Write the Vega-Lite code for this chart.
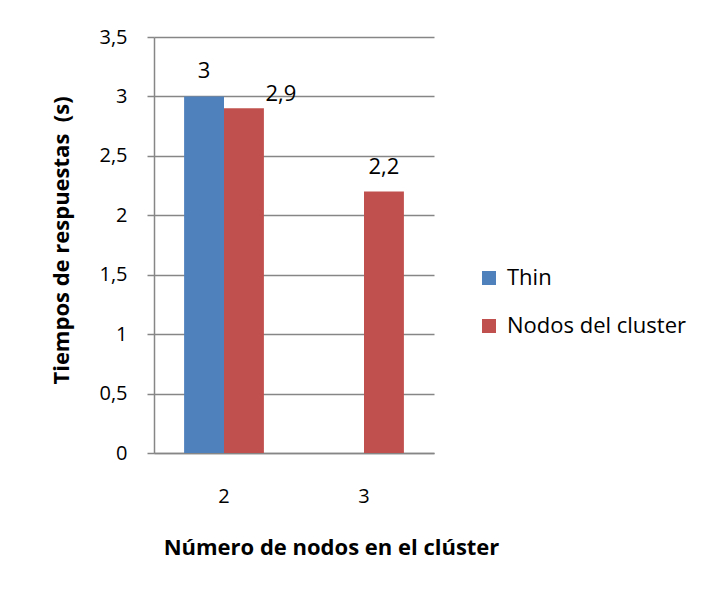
{
  "$schema": "https://vega.github.io/schema/vega-lite/v6.json",
  "width": 280,
  "height": 416,
  "autosize": "none",
  "padding": {"left": 154, "top": 37, "right": 268, "bottom": 141},
  "background": "white",
  "config": {
    "locale": {"number": {"decimal": ",", "thousands": ".", "grouping": [3], "currency": ["", " €"]}},
    "font": "Open Sans",
    "view": {"stroke": null},
    "axis": {"labelFont": "Open Sans", "titleFont": "Open Sans", "labelColor": "black", "titleColor": "black"}
  },
  "data": {
    "values": [
      {"nodos": "2", "serie": "Thin", "tiempo": 3},
      {"nodos": "2", "serie": "Nodos del cluster", "tiempo": 2.9},
      {"nodos": "3", "serie": "Nodos del cluster", "tiempo": 2.2}
    ]
  },
  "encoding": {
    "x": {
      "field": "nodos", "type": "nominal",
      "scale": {"paddingInner": 0.43, "paddingOuter": 0.215},
      "axis": {
        "title": "Número de nodos en el clúster",
        "labelAngle": 0, "labelFontSize": 20, "labelPadding": 33,
        "ticks": false, "domainColor": "#868686", "domainWidth": 1.5,
        "titleFontSize": 22, "titleFontWeight": "bold",
        "titleX": 177, "titleY": 94, "titleBaseline": "middle"
      }
    },
    "xOffset": {"field": "serie", "type": "nominal", "scale": {"domain": ["Thin", "Nodos del cluster"], "paddingInner": 0}},
    "y": {
      "field": "tiempo", "type": "quantitative",
      "scale": {"domain": [0, 3.5], "nice": false},
      "axis": {
        "title": "Tiempos de respuestas\u00a0 (s)",
        "values": [0, 0.5, 1, 1.5, 2, 2.5, 3, 3.5],
        "format": ".1~f",
        "labelFontSize": 20, "labelPadding": 20, "tickSize": 7,
        "tickColor": "#868686", "domainColor": "#868686", "gridColor": "#868686",
        "tickWidth": 1.5, "domainWidth": 1.5, "gridWidth": 1.5,
        "grid": true,
        "titleFontSize": 22, "titleFontWeight": "bold",
        "titleX": -86, "titleY": 203, "titleBaseline": "alphabetic", "titleAngle": -90
      }
    }
  },
  "layer": [
    {
      "mark": {"type": "bar"},
      "encoding": {
        "color": {
          "field": "serie", "type": "nominal",
          "scale": {"domain": ["Thin", "Nodos del cluster"], "range": ["#4F81BD", "#C0504D"]},
          "legend": {
            "title": null, "orient": "none", "legendX": 324, "legendY": 230,
            "symbolType": "square", "symbolSize": 196, "symbolStrokeWidth": 0,
            "labelFontSize": 22, "labelFont": "Open Sans", "labelColor": "black",
            "labelOffset": 7, "rowPadding": 26, "labelLimit": 400
          }
        }
      }
    },
    {
      "transform": [{"filter": "datum.tiempo != 2.9"}],
      "mark": {"type": "text", "baseline": "alphabetic", "dy": -18, "fontSize": 22, "color": "black"},
      "encoding": {"text": {"field": "tiempo", "type": "quantitative", "format": ".1~f"}}
    },
    {
      "transform": [{"filter": "datum.tiempo == 2.9"}],
      "mark": {"type": "text", "baseline": "alphabetic", "dy": -7, "dx": 37, "fontSize": 22, "color": "black"},
      "encoding": {"text": {"field": "tiempo", "type": "quantitative", "format": ".1~f"}}
    }
  ]
}
